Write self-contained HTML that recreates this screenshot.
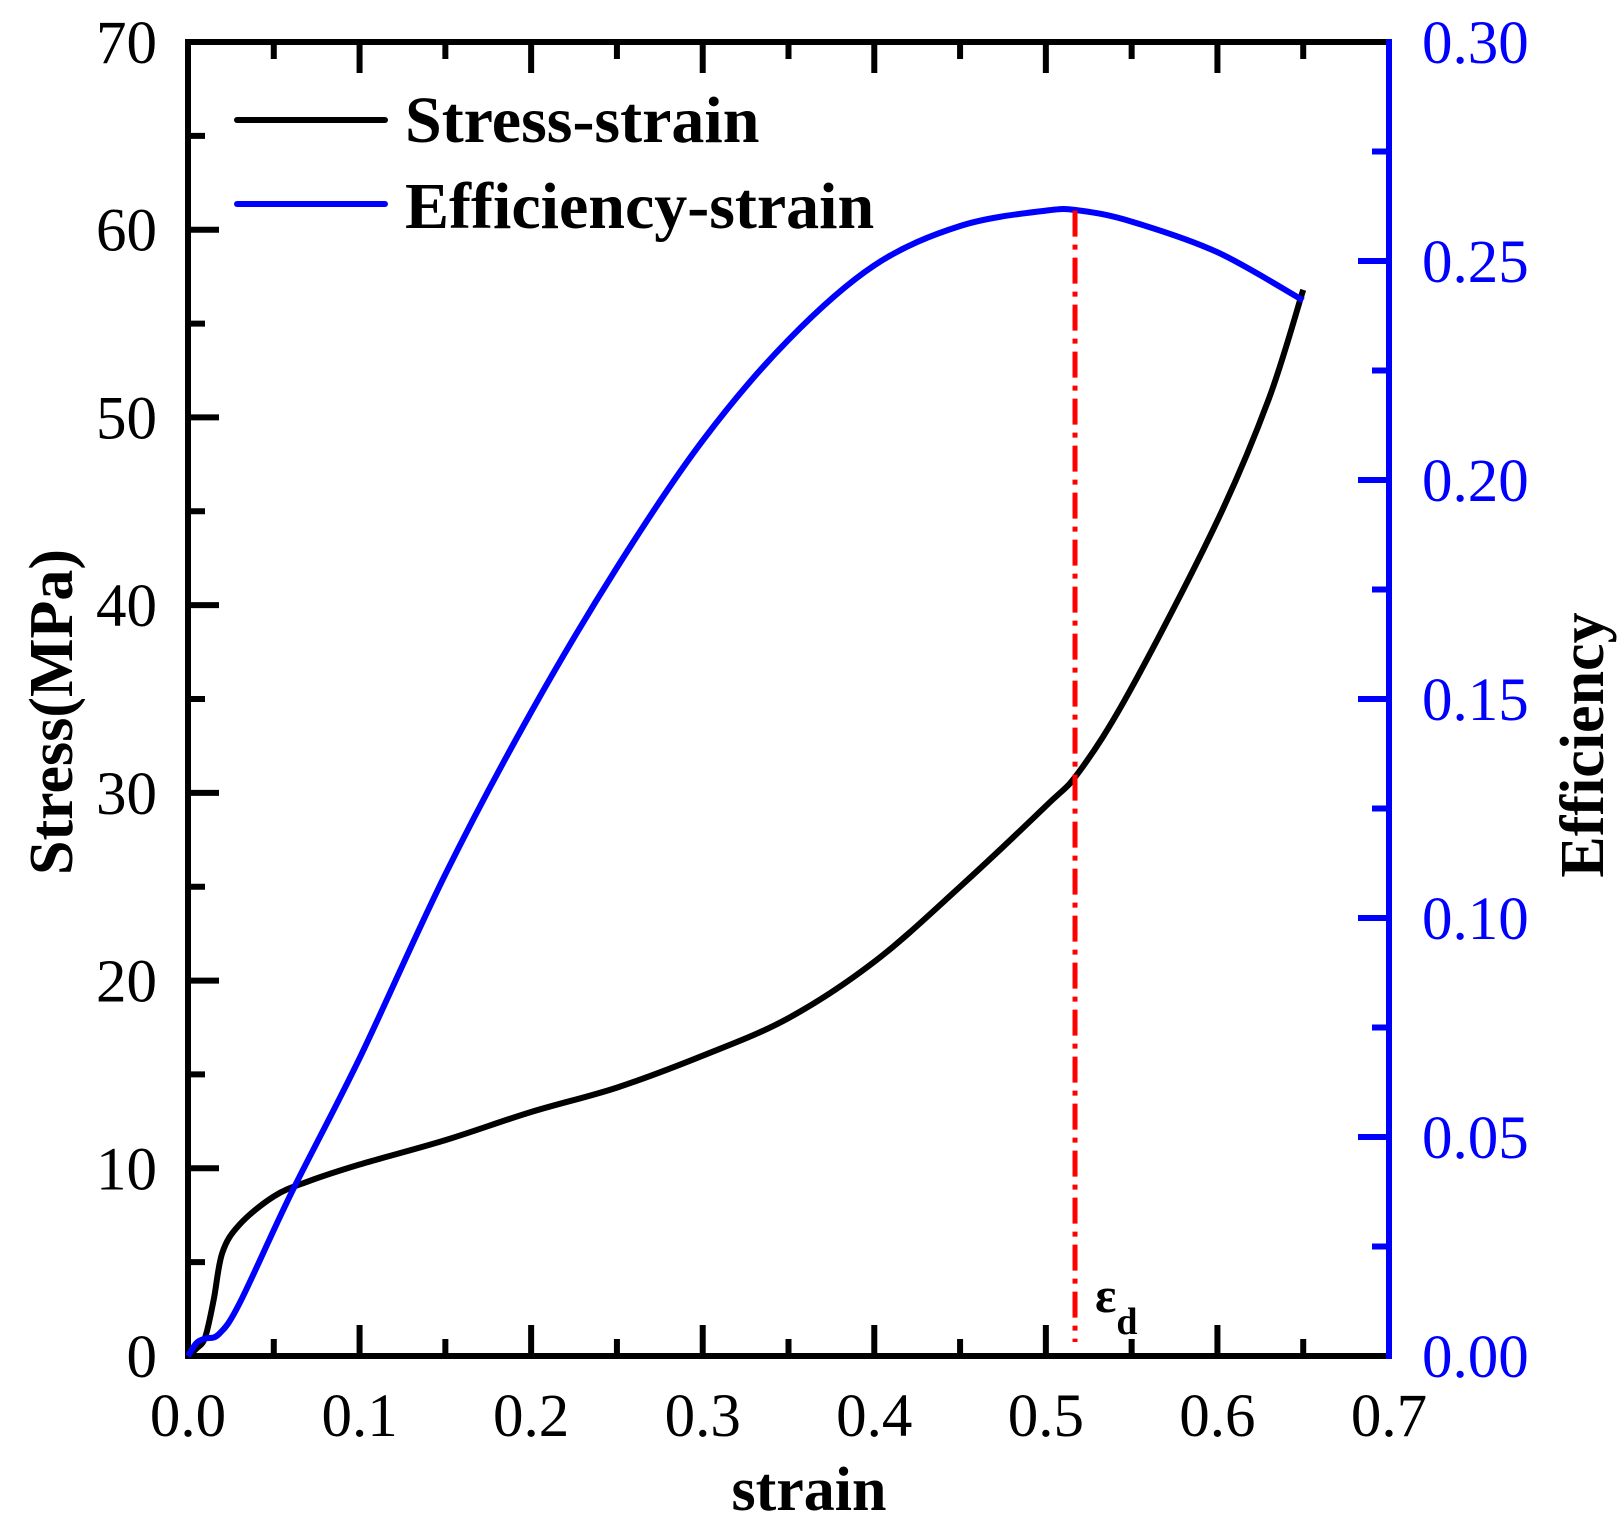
<!DOCTYPE html>
<html><head><meta charset="utf-8"><style>
body{margin:0;background:#fff}
svg text{font-family:"Liberation Serif",serif}
</style></head><body>
<svg id="chart" width="1623" height="1528" viewBox="0 0 1623 1528" xmlns="http://www.w3.org/2000/svg">
<g id="axes"></g>
<g id="series"></g>
</svg>
<script>
const strain=[0,0.005,0.01,0.015,0.02,0.03,0.05,0.07,0.1,0.15,0.2,0.25,0.3,0.35,0.4,0.45,0.5,0.52,0.55,0.6,0.63,0.65];
const stress=[0,0.4,1,3,5.5,7,8.5,9.3,10.2,11.5,13,14.3,16,18,21,25,29.3,31.2,35.6,44.5,51,56.8];
const effStrain=[0,0.005,0.01,0.018,0.03,0.06,0.1,0.15,0.2,0.25,0.3,0.35,0.4,0.45,0.5,0.52,0.55,0.6,0.65];
const efficiency=[0,0.003,0.004,0.005,0.012,0.037,0.068,0.11,0.147,0.18,0.209,0.232,0.249,0.258,0.2615,0.2615,0.259,0.252,0.241];
const xTicks=["0.0","0.1","0.2","0.3","0.4","0.5","0.6","0.7"];
const yTicks=["0","10","20","30","40","50","60","70"];
const y2Ticks=["0.00","0.05","0.10","0.15","0.20","0.25","0.30"];
const densStrain=0.517;

const L=188,R=1389,T=42,B=1356;
const X=v=>L+v/0.7*(R-L), Y=v=>B-v/70*(B-T), Y2=v=>B-v/0.3*(B-T);
const NS="http://www.w3.org/2000/svg";
const ax=document.getElementById('axes'), se=document.getElementById('series');
function mk(tag,attrs,parent,text){const e=document.createElementNS(NS,tag);for(const k in attrs)e.setAttribute(k,attrs[k]);if(text!==undefined)e.textContent=text;parent.appendChild(e);return e;}
function ln(x1,y1,x2,y2,c,w,parent){return mk('line',{x1,y1,x2,y2,stroke:c,'stroke-width':w,'stroke-linecap':'square'},parent);}

let f=ln(L,T,R,T,'#000',6,ax);


f=ln(L,T,L,B,'#000',6,ax);


f=ln(L,B,R,B,'#000',6,ax);


f=ln(R,T,R,B,'#00f',6,ax);



for(let i=0;i<=14;i++){const v=i*0.05,x=X(v),len=i%2?14:28;
 if(i>0&&i<14){ln(x,B,x,B-len,'#000',6,ax);ln(x,T,x,T+len,'#000',6,ax);}
 if(i%2===0){const t=mk('text',{x:x,y:B+80,'font-size':61,'text-anchor':'middle'},ax,xTicks[i/2]);
  
  }}
for(let i=0;i<=14;i++){const v=i*5,y=Y(v),len=i%2?14:28;
 if(i>0&&i<14)ln(L,y,L+len,y,'#000',6,ax);
 if(i%2===0){const t=mk('text',{x:157,y:y+21,'font-size':61,'text-anchor':'end'},ax,yTicks[i/2]);
  
  }}
for(let i=0;i<=12;i++){const v=i*0.025,y=Y2(v),len=i%2?14:28;
 if(i>0&&i<12)ln(R,y,R-len,y,'#00f',6,ax);
 if(i%2===0){const t=mk('text',{x:1422,y:y+21,'font-size':61,fill:'#00f'},ax,y2Ticks[i/2]);
  
  }}

let t=mk('text',{x:809,y:1510,'font-size':62,'font-weight':'bold','text-anchor':'middle'},ax,'strain');


t=mk('text',{x:0,y:0,'font-size':62,'font-weight':'bold','text-anchor':'middle',transform:'translate(72,712) rotate(-90)'},ax,'Stress(MPa)');


t=mk('text',{x:0,y:0,'font-size':62,'font-weight':'bold','text-anchor':'middle',transform:'translate(1603,745) rotate(-90)'},ax,'Efficiency');



function path(xs,ys,fy){
 const P=xs.map((v,i)=>[X(v),fy(ys[i])]);
 let d='M'+P[0][0].toFixed(1)+','+P[0][1].toFixed(1);
 for(let i=0;i<P.length-1;i++){const p0=P[Math.max(0,i-1)],p1=P[i],p2=P[i+1],p3=P[Math.min(P.length-1,i+2)];
  const c1=[p1[0]+(p2[0]-p0[0])/6,p1[1]+(p2[1]-p0[1])/6],c2=[p2[0]-(p3[0]-p1[0])/6,p2[1]-(p3[1]-p1[1])/6];
  d+=' C'+c1.map(n=>n.toFixed(1)).join(',')+' '+c2.map(n=>n.toFixed(1)).join(',')+' '+p2.map(n=>n.toFixed(1)).join(',');}
 return d;}
let p=mk('path',{d:path(strain,stress,Y),fill:'none',stroke:'#000','stroke-width':6,'stroke-linejoin':'round'},se);


p=mk('path',{d:path(effStrain,efficiency,Y2),fill:'none',stroke:'#00f','stroke-width':6,'stroke-linejoin':'round'},se);


let d=mk('line',{x1:X(densStrain),y1:Y2(0.2615),x2:X(densStrain),y2:B-14,stroke:'#f00','stroke-width':5,'stroke-dasharray':'26,8,5,8'},se);


t=mk('text',{x:X(densStrain)+20,y:1312,'font-size':50,'font-weight':'bold'},se,'ε');


mk('tspan',{dy:22,'font-size':38},t,'d');

let g=mk('g',{},se);


let e=mk('g',{},g);


mk('line',{x1:237,y1:120,x2:385,y2:120,stroke:'#000','stroke-width':6,'stroke-linecap':'round'},e);
mk('text',{x:405,y:142,'font-size':66,'font-weight':'bold'},e,'Stress-strain');
e=mk('g',{},g);


mk('line',{x1:237,y1:204,x2:385,y2:204,stroke:'#00f','stroke-width':6,'stroke-linecap':'round'},e);
mk('text',{x:405,y:228,'font-size':66,'font-weight':'bold'},e,'Efficiency-strain');
</script>
</body></html>
